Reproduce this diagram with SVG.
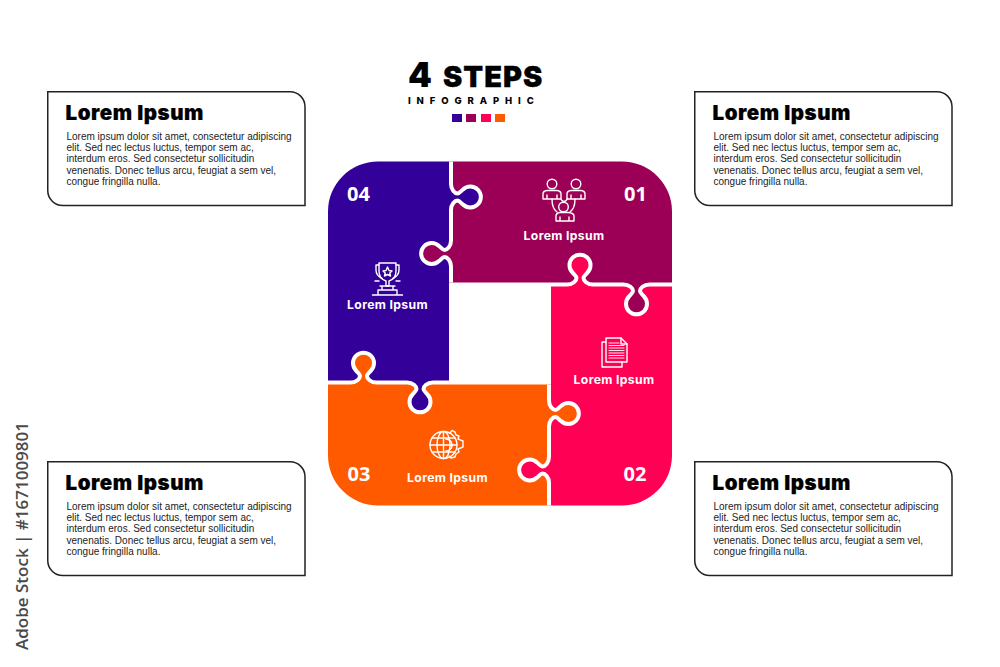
<svg xmlns="http://www.w3.org/2000/svg" xmlns:xlink="http://www.w3.org/1999/xlink" width="1000" height="667" viewBox="0 0 1000 667">
<style>
.box{fill:#fff;stroke:#222;stroke-width:1.5}
.h{font-family:Inter,"Liberation Sans",sans-serif;font-weight:900;font-size:20.5px;letter-spacing:.55px;fill:#000;stroke:#000;stroke-width:.2}
.b{font-family:"Liberation Sans",Arial,sans-serif;font-size:10px;fill:#222}
.n{font-family:"Open Sans","Liberation Sans",sans-serif;font-weight:700;font-size:20px;fill:#fff;text-anchor:middle}
.l{font-family:Inter,"Liberation Sans",sans-serif;font-weight:700;font-size:12.2px;letter-spacing:.35px;fill:#fff;text-anchor:middle}
.i{fill:none;stroke:#fff;stroke-width:1.4;stroke-linejoin:round;stroke-linecap:round}
.seam{fill:none;stroke:#fff;stroke-width:4}
</style>
<defs>
<path id="piece" d="M328,211.5A50,50 0 0 1 378,161.5L451,161.5L451,184C451,190 455,193.5 457.5,193.5C459.5,193.5 461,191 463,189.5A10.5,10.5 0 1 1 463,204.5C461,203 459.5,200.5 457.5,200.5C455,200.5 451,204 451,210L451,240.5C451,246.5 447,250 444.5,250C442.5,250 441,247.5 439,246A10.5,10.5 0 1 0 439,261C441,259.5 442.5,257 444.5,257C447,257 451,260.5 451,266.5L451,282.5L449,282.5L449,382.5L433,382.5C427,382.5 423.5,386.5 423.5,389C423.5,391 426,392.5 427.5,394.5A10.5,10.5 0 1 1 412.5,394.5C414,392.5 416.5,391 416.5,389C416.5,386.5 413,382.5 407,382.5L376.5,382.5C370.5,382.5 367,378.5 367,376C367,374 369.5,372.5 371,370.5A10.5,10.5 0 1 0 356,370.5C357.5,372.5 360,374 360,376C360,378.5 356.5,382.5 350.5,382.5L328,382.5Z"/>
<path id="seam" class="seam" d="M451,161.5L451,184C451,190 455,193.5 457.5,193.5C459.5,193.5 461,191 463,189.5A10.5,10.5 0 1 1 463,204.5C461,203 459.5,200.5 457.5,200.5C455,200.5 451,204 451,210L451,240.5C451,246.5 447,250 444.5,250C442.5,250 441,247.5 439,246A10.5,10.5 0 1 0 439,261C441,259.5 442.5,257 444.5,257C447,257 451,260.5 451,266.5L451,282.5"/>
<path id="card" class="box" d="M47.75,91.75H290a15,15 0 0 1 15,15V205.5H63a15,15 0 0 1 -15.25,-15Z"/>
</defs>

<g id="title">
<text x="408" y="87" font-family="Inter,'Liberation Sans',sans-serif" font-weight="900" font-size="34" fill="#000">4</text>
<text x="443" y="87" font-family="Inter,'Liberation Sans',sans-serif" font-weight="900" font-size="29" letter-spacing="1" fill="#000" stroke="#000" stroke-width=".3">STEPS</text>
<text x="408" y="103.5" font-family="Inter,'Liberation Sans',sans-serif" font-weight="800" font-size="9.5" letter-spacing="5.9" fill="#000">INFOGRAPHIC</text>
<rect x="452" y="114" width="10" height="8" fill="#330099"/>
<rect x="466" y="114" width="10" height="8" fill="#9c0056"/>
<rect x="481" y="114" width="10" height="8" fill="#ff0055"/>
<rect x="495" y="114" width="10" height="8" fill="#ff5a00"/>
</g>

<g id="piece-04"><use xlink:href="#piece" href="#piece" fill="#330099"/></g>
<g id="piece-01"><use xlink:href="#piece" href="#piece" fill="#9c0056" transform="rotate(90 500 333.5)"/></g>
<g id="piece-02"><use xlink:href="#piece" href="#piece" fill="#ff0055" transform="rotate(180 500 333.5)"/></g>
<g id="piece-03"><use xlink:href="#piece" href="#piece" fill="#ff5a00" transform="rotate(270 500 333.5)"/></g>

<g id="connectors">
<use xlink:href="#seam" href="#seam"/>
<use xlink:href="#seam" href="#seam" transform="rotate(90 500 333.5)"/>
<use xlink:href="#seam" href="#seam" transform="rotate(180 500 333.5)"/>
<use xlink:href="#seam" href="#seam" transform="rotate(270 500 333.5)"/>
</g>

<g id="step-04">
<text class="n" x="358.5" y="201">04</text>
<text class="l" x="387.5" y="309">Lorem Ipsum</text>
<g class="i">
<path d="M379,263H396V271C396,277 392,280 389,281V286H386V281C383,280 379,277 379,271Z"/>
<path d="M379,265H376V270C376,274 379,277 382,278.5M396,265H399V270C399,274 396,277 393,278.5"/>
<path d="M387.5,267L389,270.5L392,271L389.8,273L390.5,276L387.5,274.5L384.5,276L385.2,273L383,271L386,270.5Z"/>
<path d="M380,286H395M375,281H379M396,281H400M382,290V286M393,290V286M378,290H397V295H378ZM372.5,295H402.5"/>
</g>
</g>

<g id="step-01">
<text class="n" x="635.5" y="201">01</text>
<text class="l" x="564" y="240">Lorem Ipsum</text>
<g class="i">
<circle cx="552" cy="184" r="4.8"/><circle cx="576" cy="184" r="4.8"/><circle cx="563.5" cy="207" r="4.8"/>
<path d="M543,199V194Q543,191 547,190.5H557Q561,191 561,194V199ZM547,199V195M557,199V195"/>
<path d="M567,199V194Q567,191 571,190.5H581Q585,191 585,194V199ZM571,199V195M581,199V195"/>
<path d="M556,221V216Q556,213 560,212.5H568Q574,213 574,216V221ZM560,221V217M569,221V217"/>
<path d="M552,199C552,206 554,210 557,212M575,199C575,206 573,210 570,212M561,199C561,200 563,201.5 564,201.5S567,200 567,199"/>
</g>
</g>

<g id="step-02">
<text class="n" x="635" y="481">02</text>
<text class="l" x="614" y="384">Lorem Ipsum</text>
<g class="i">
<path d="M606,342H602V367H622V362"/>
<path d="M606,338H621L627,344V362H606Z"/>
<path d="M621,338V344H627"/>
<path d="M609,343H619M609,345.5H624M609,348H624M609,350.5H624M609,353H624M609,355.5H624M609,358H624" stroke-width=".9"/>
</g>
</g>

<g id="step-03">
<text class="n" x="359" y="481">03</text>
<text class="l" x="447.5" y="482">Lorem Ipsum</text>
<g class="i">
<circle cx="443.5" cy="445" r="13.5"/>
<ellipse cx="443.5" cy="445" rx="6.5" ry="13.5"/>
<path d="M443.5,431.5V458.5M430,445H457M432,438H455M432,452H455"/>
<path d="M450,433L452,430.5L455,432L456,435L459,436L458,439L463,441V447L458,449L459,452L456,454L455,457L451,458L449,456"/>
<path d="M446,439A6,6 0 0 1 446,451" stroke-width="1.6"/>
</g>
</g>

<g id="card-1">
<use xlink:href="#card" href="#card"/>
<text class="h" x="65.5" y="120">Lorem Ipsum</text>
<g class="b"><text x="66.5" y="139.5">Lorem ipsum dolor sit amet, consectetur adipiscing</text><text x="66.5" y="150.8">elit. Sed nec lectus luctus, tempor sem ac,</text><text x="66.5" y="162.2">interdum eros. Sed consectetur sollicitudin</text><text x="66.5" y="173.5">venenatis. Donec tellus arcu, feugiat a sem vel,</text><text x="66.5" y="184.8">congue fringilla nulla.</text></g>
</g>
<g id="card-2" transform="translate(647 0)">
<use xlink:href="#card" href="#card"/>
<text class="h" x="65.5" y="120">Lorem Ipsum</text>
<g class="b"><text x="66.5" y="139.5">Lorem ipsum dolor sit amet, consectetur adipiscing</text><text x="66.5" y="150.8">elit. Sed nec lectus luctus, tempor sem ac,</text><text x="66.5" y="162.2">interdum eros. Sed consectetur sollicitudin</text><text x="66.5" y="173.5">venenatis. Donec tellus arcu, feugiat a sem vel,</text><text x="66.5" y="184.8">congue fringilla nulla.</text></g>
</g>
<g id="card-3" transform="translate(0 370)">
<use xlink:href="#card" href="#card"/>
<text class="h" x="65.5" y="120">Lorem Ipsum</text>
<g class="b"><text x="66.5" y="139.5">Lorem ipsum dolor sit amet, consectetur adipiscing</text><text x="66.5" y="150.8">elit. Sed nec lectus luctus, tempor sem ac,</text><text x="66.5" y="162.2">interdum eros. Sed consectetur sollicitudin</text><text x="66.5" y="173.5">venenatis. Donec tellus arcu, feugiat a sem vel,</text><text x="66.5" y="184.8">congue fringilla nulla.</text></g>
</g>
<g id="card-4" transform="translate(647 370)">
<use xlink:href="#card" href="#card"/>
<text class="h" x="65.5" y="120">Lorem Ipsum</text>
<g class="b"><text x="66.5" y="139.5">Lorem ipsum dolor sit amet, consectetur adipiscing</text><text x="66.5" y="150.8">elit. Sed nec lectus luctus, tempor sem ac,</text><text x="66.5" y="162.2">interdum eros. Sed consectetur sollicitudin</text><text x="66.5" y="173.5">venenatis. Donec tellus arcu, feugiat a sem vel,</text><text x="66.5" y="184.8">congue fringilla nulla.</text></g>
</g>

<text id="credit" transform="translate(28 650) rotate(-90)" font-family="'Open Sans','Liberation Sans',sans-serif" font-weight="600" font-size="17" fill="#4a4a4a">Adobe Stock | #1671009801</text>
</svg>
